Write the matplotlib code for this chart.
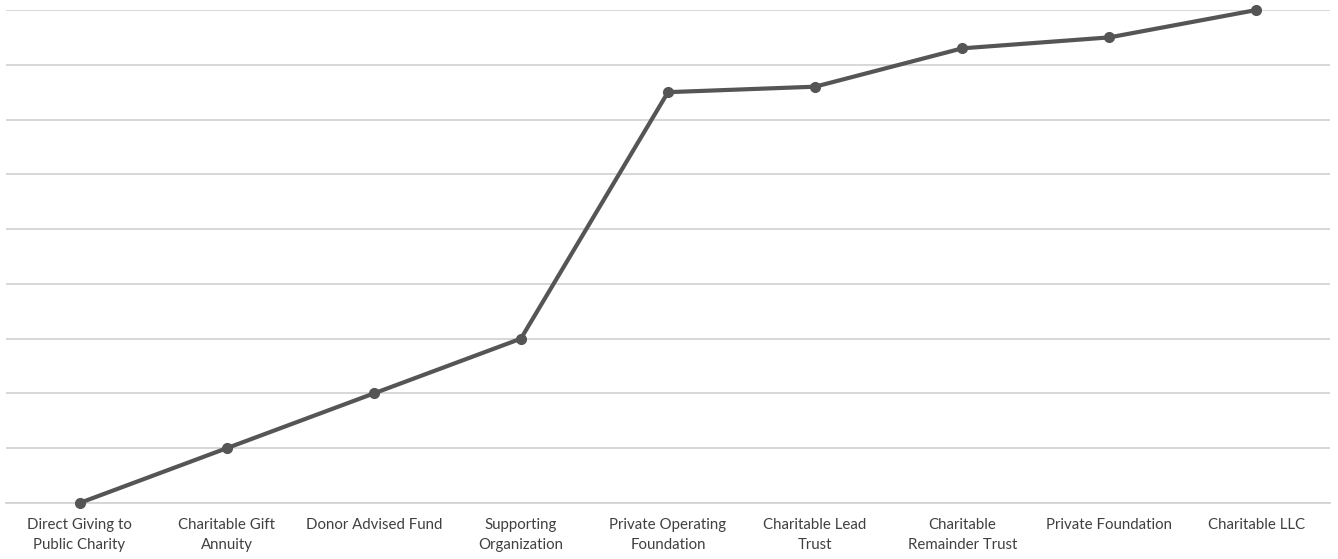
import matplotlib.pyplot as plt

vehicles = ['Direct Giving to\nPublic Charity', 'Charitable Gift\nAnnuity', 'Donor Advised Fund',
            'Supporting\nOrganization', 'Private Operating\nFoundation', 'Charitable Lead\nTrust',
            'Charitable\nRemainder Trust', 'Private Foundation', 'Charitable LLC']
scores = [0, 1, 2, 3, 7.5, 7.6, 8.3, 8.5, 9]

fig = plt.figure(figsize=(13.38, 5.59), dpi=100, facecolor='white')
ax = fig.add_axes([6 / 1338, 1 - 503 / 559, 1324 / 1338, 493 / 559])

x = range(len(vehicles))
ax.plot(x, scores, color='#555555', linewidth=3, marker='o', markersize=7,
        zorder=3, clip_on=False)

ax.set_xlim(-0.5, len(vehicles) - 0.5)
ax.set_ylim(0, 9)
ax.set_yticks(range(10))
ax.yaxis.grid(True, color='#d4d4d4', linewidth=1.3)
ax.tick_params(axis='y', left=False, labelleft=False)
ax.tick_params(axis='x', length=0, pad=11)
ax.set_xticks(list(x))
ax.set_xticklabels(vehicles, fontsize=10.8, color='#404040', family='Lato', linespacing=1.55)
for side in ['left', 'right', 'top']:
    ax.spines[side].set_visible(False)
ax.spines['bottom'].set_color('#d4d4d4')
ax.spines['bottom'].set_linewidth(1.3)
ax.spines['bottom'].set_zorder(0)
ax.set_axisbelow(True)

plt.savefig('out.png', dpi=100, facecolor='white')
plt.close()
